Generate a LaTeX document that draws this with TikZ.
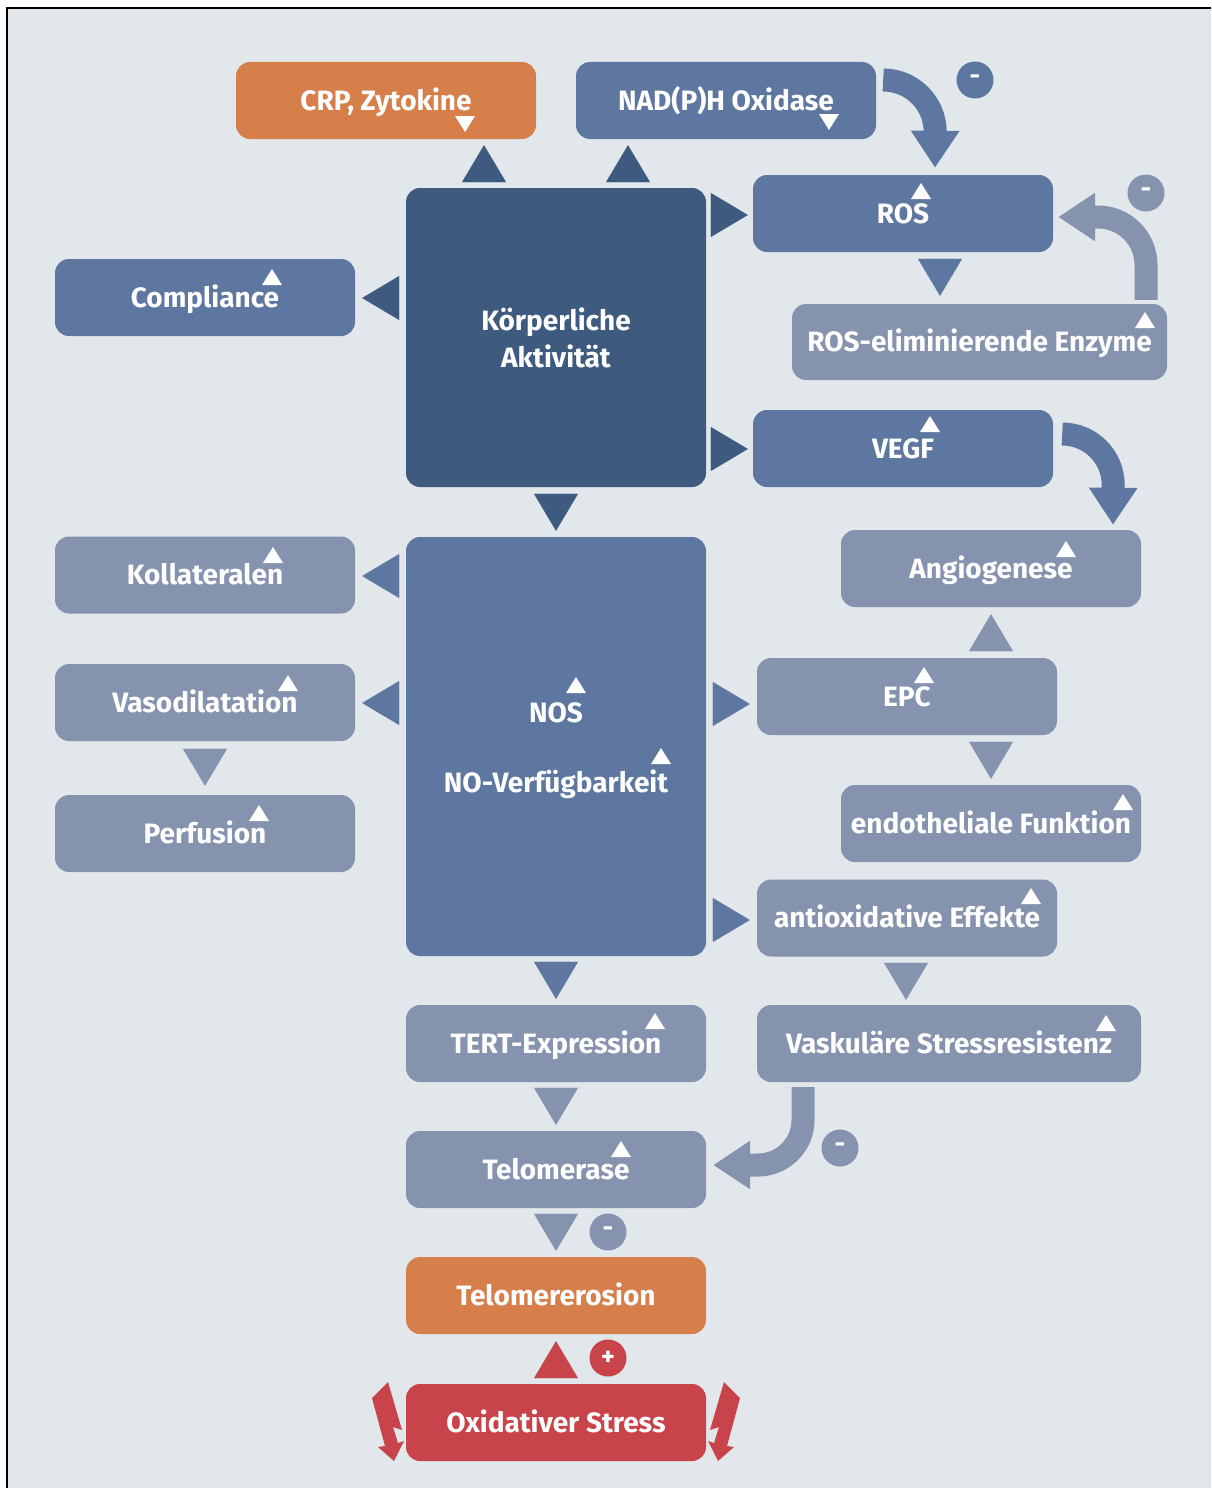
\documentclass[tikz,border=0pt]{standalone}
\usepackage{fontspec}
\setmainfont{Fira Sans}
\usetikzlibrary{arrows.meta,calc}
\definecolor{bgc}{HTML}{E2E7EC}
\definecolor{dkb}{HTML}{3E5A7E}
\definecolor{mdb}{HTML}{5D77A0}
\definecolor{ltb}{HTML}{8693AF}
\definecolor{org}{HTML}{D67F4B}
\definecolor{rdc}{HTML}{C8444A}
\newcommand\lbl{\fontsize{28}{37}\selectfont\bfseries}
\newcommand\wup[2]{\fill[white] ({#1-10},{#2+8}) -- ({#1+10},{#2+8}) -- ({#1},{#2-8}) -- cycle;}
\newcommand\wdn[2]{\fill[white] ({#1-10},{#2-8}) -- ({#1+10},{#2-8}) -- ({#1},{#2+8}) -- cycle;}
\begin{document}
\begin{tikzpicture}[x=1pt,y=-1pt,
  box/.style={rectangle, rounded corners=14pt, minimum width=300pt, minimum height=77pt,
    inner sep=0pt, text=white, font=\lbl, fill=#1},
  one/.style={text height=19.5pt, text depth=0pt},
  lbl/.style={text=white, font=\lbl, inner sep=0pt, one},
  tri/.style={draw=bgc, line width=0.05pt,
    -{Triangle[width=44pt,length=37pt,color=#1,fill=#1]}, shorten <=6pt, shorten >=6pt},
  band/.style={draw=#1, line width=23pt, -{Triangle[width=46pt,length=37pt]}},
  sign/.style={circle, fill=#1, minimum size=37pt, inner sep=0pt, text=white,
    font=\fontsize{26}{26}\selectfont\bfseries},
]
\useasboundingbox (0,0) rectangle (1211,1488);
\fill[white] (0,0) rectangle (1211,1488);
\fill[bgc] (7,8) rectangle (1211,1488);
\draw[black, line width=2.5pt] (7,1488) -- (7,8) -- (1211,8);

% boxes
\node[box=org, one] (crp) at (386,100.5) {CRP, Zytokine};
\node[box=mdb, one] (nad) at (726,100.5) {NAD(P)H Oxidase};
\node[box=dkb, minimum height=299pt, align=center] (kor) at (556,337.5) {Körperliche\\Aktivität};
\node[box=mdb, one] (ros) at (903,213.5) {ROS};
\node[box=ltb, one, minimum width=375pt, minimum height=76pt] (elim) at (979.5,342) {ROS-eliminierende Enzyme};
\node[box=mdb, one] (comp) at (205,297.5) {Compliance};
\node[box=mdb, one] (vegf) at (903,448.5) {VEGF};
\node[box=ltb, one] (angio) at (991,568.5) {Angiogenese};
\node[box=ltb, one] (koll) at (205,575) {Kollateralen};
\node[box=mdb, minimum height=419pt] (nos) at (556,746.5) {};
\node[lbl] (nost) at (556,713) {NOS};
\node[lbl] (novt) at (556,783) {NO-Verfügbarkeit};
\node[box=ltb, one] (epc) at (907,696.5) {EPC};
\node[box=ltb, one] (vaso) at (205,702.5) {Vasodilatation};
\node[box=ltb, one] (perf) at (205,833.5) {Perfusion};
\node[box=ltb, one] (endo) at (991,823.5) {endotheliale Funktion};
\node[box=ltb, one] (antiox) at (907,918) {antioxidative Effekte};
\node[box=ltb, one] (tert) at (556,1043.5) {TERT-Expression};
\node[box=ltb, one, minimum width=384pt] (vask) at (949,1043.5) {Vaskuläre Stressresistenz};
\node[box=ltb, one] (telo) at (556,1169.5) {Telomerase};
\node[box=org, one] (ero) at (556,1295.5) {Telomererosion};
\node[box=rdc, one] (ox) at (556,1422.5) {Oxidativer Stress};

% small white markers
\wdn{465}{124}
\wdn{829}{122}
\wup{921}{191}
\wup{1145}{320}
\wup{272}{277}
\wup{930}{424}
\wup{1066}{549}
\wup{273}{555}
\wup{576}{685}
\wup{661}{756}
\wup{924}{675}
\wup{288}{683}
\wup{259}{813}
\wup{1123}{802}
\wup{1031}{896}
\wup{655}{1021}
\wup{1106}{1023}
\wup{621}{1149}

% triangle connectors
\draw[tri=dkb] ($(kor.north)+(-72,0)$) -- ($(crp.south)+(98,0)$);
\draw[tri=dkb] ($(kor.north)+(72,0)$) -- ($(nad.south)+(-98,0)$);
\draw[tri=dkb, shorten >=5pt] ($(kor.east)+(0,-122.5)$) -- ($(ros.west)+(0,1.5)$);
\draw[tri=dkb, shorten >=7pt] ($(kor.east)+(-300,-39.5)$) -- ($(comp.east)+(0,0.5)$);
\draw[tri=dkb, shorten >=5pt] ($(kor.east)+(0,111.5)$) -- ($(vegf.west)+(0,0.5)$);
\draw[tri=dkb, shorten <=8pt] (kor.south) -- (nos.north);
\draw[tri=mdb, shorten >=7pt] ($(nos.west)+(0,-170.5)$) -- ($(koll.east)+(0,1)$);
\draw[tri=mdb, shorten >=7pt] ($(nos.west)+(0,-43.5)$) -- ($(vaso.east)+(0,0.5)$);
\draw[tri=mdb, shorten >=7pt] ($(nos.east)+(0,-42.5)$) -- ($(epc.west)+(0,7.5)$);
\draw[tri=mdb, shorten >=7pt] ($(nos.east)+(0,173.5)$) -- ($(antiox.west)+(0,2)$);
\draw[tri=mdb, shorten <=7pt] (nos.south) -- (tert.north);
\draw[tri=mdb, shorten <=7pt, shorten >=8pt] ($(ros.south)+(37,0)$) -- ($(elim.north)+(-39.5,0)$);
\draw[tri=ltb, shorten <=8pt, shorten >=9pt] (vaso.south) -- (perf.north);
\draw[tri=ltb, shorten <=7pt, shorten >=7pt] ($(epc.north)+(84,0)$) -- (angio.south);
\draw[tri=ltb, shorten <=7pt] ($(epc.south)+(84,0)$) -- (endo.north);
\draw[tri=ltb, shorten <=8pt, shorten >=5pt] ($(antiox.south)+(-1,0)$) -- ($(vask.north)+(-43,0)$);
\draw[tri=ltb, shorten <=7pt] (tert.south) -- (telo.north);
\draw[tri=ltb] (telo.south) -- (ero.north);
\draw[tri=rdc, shorten <=7pt, shorten >=7pt] (ox.north) -- (ero.south);

% curved arrows
\draw[band=mdb] ($(nad.east)+(7,-20.5)$) arc[start angle=-90, end angle=0, radius=52] -- ($(ros.north)+(32,-7)$);
\draw[band=ltb] ($(elim.north)+(166.5,-4)$) -- (1146,265) arc[start angle=0, end angle=-90, radius=48] -- ($(ros.east)+(5,3.5)$);
\draw[band=mdb] ($(vegf.east)+(9,-14.5)$) arc[start angle=-90, end angle=0, radius=51] -- ($(angio.north)+(122,-5)$);
\draw[band=ltb] ($(vask.south)+(-146,5)$) -- (803,1120) arc[start angle=0, end angle=90, radius=45] -- ($(telo.east)+(7,-4.5)$);

% signs
\node[sign=mdb] (s1) at (975,80) {-};
\node[sign=ltb] (s2) at (1146,193) {-};
\node[sign=ltb] (s3) at (840,1148) {-};
\node[sign=ltb] (s4) at (608,1232) {-};
\node[sign=rdc] (s5) at (608,1358) {+};

% lightning bolts
\fill[rdc] (372,1398) -- (388,1382) -- (402,1430) -- (393,1427) -- (398,1443) -- (404,1441)
  -- (394,1461) -- (378,1447) -- (385,1446) -- (379,1424) -- cycle;
\fill[rdc] (740,1398) -- (724,1382) -- (710,1430) -- (719,1427) -- (714,1443) -- (708,1441)
  -- (718,1461) -- (734,1447) -- (727,1446) -- (733,1424) -- cycle;
\end{tikzpicture}
\end{document}
